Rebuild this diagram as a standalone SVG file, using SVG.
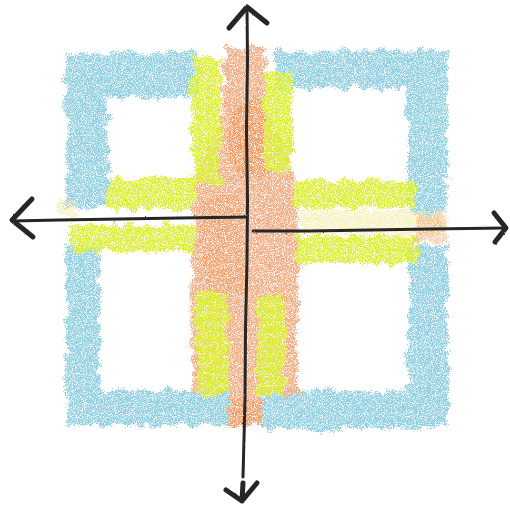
<svg xmlns="http://www.w3.org/2000/svg" width="510" height="507" viewBox="0 0 510 507">
<defs>
<filter id="crayon" x="-10%" y="-10%" width="120%" height="120%">
<feTurbulence type="fractalNoise" baseFrequency="0.08" numOctaves="2" seed="4" result="wave"/>
<feDisplacementMap in="SourceGraphic" in2="wave" scale="14" xChannelSelector="R" yChannelSelector="G" result="wavy"/>
<feTurbulence type="fractalNoise" baseFrequency="0.8" numOctaves="2" seed="3" result="noise"/>
<feDisplacementMap in="wavy" in2="noise" scale="8" xChannelSelector="R" yChannelSelector="G" result="rough"/>
<feTurbulence type="fractalNoise" baseFrequency="1.1" numOctaves="2" seed="11" result="grain"/>
<feColorMatrix in="grain" type="matrix" values="0 0 0 0 0  0 0 0 0 0  0 0 0 0 0  4 0 0 0 -1.15" result="grainA"/>
<feComposite in="rough" in2="grainA" operator="in"/>
</filter>
<filter id="wobble" x="-5%" y="-5%" width="110%" height="110%">
<feTurbulence type="fractalNoise" baseFrequency="0.9" numOctaves="1" seed="5" result="n"/>
<feDisplacementMap in="SourceGraphic" in2="n" scale="2" xChannelSelector="R" yChannelSelector="G"/>
</filter>
</defs>
<style>
.blue{fill:#92d0e2}
.yel{fill:#dbef35}
.org{fill:#f2ae86}
.orgd{fill:#ee8a44}
.pale{fill:#f3e79a}
.axis{fill:none;stroke:#262626;stroke-width:3;stroke-linecap:round;stroke-linejoin:round}
.head{fill:none;stroke:#262626;stroke-width:5;stroke-linecap:round;stroke-linejoin:round}
</style>
<rect width="510" height="507" fill="#ffffff"/>
<g id="blue-frame" filter="url(#crayon)">
<path class="blue" d="M65,53 L198,52 L198,98 L108,98 L108,208 L66,208 Z"/>
<path class="blue" d="M275,51 L448,50 L448,213 L407,213 L407,88 L275,88 Z"/>
<path class="blue" d="M66,246 L100,246 L100,390 L232,390 L232,425 L66,425 Z"/>
<path class="blue" d="M408,246 L448,246 L448,428 L262,428 L262,390 L408,390 Z"/>
</g>
<g id="orange-band" filter="url(#crayon)">
<path class="org" d="M225,48 L263,48 L268,120 L290,150 L298,200 L298,395 L262,396 L262,426 L230,426 L230,396 L192,396 L193,180 L205,150 L222,120 Z"/>
<path class="orgd" opacity="0.5" d="M235,105 L262,100 L272,140 L268,175 L240,180 L228,150 Z"/>
<path class="orgd" opacity="0.25" d="M200,200 L240,195 L245,290 L205,300 Z"/>
<path class="orgd" opacity="0.4" d="M232,400 L262,400 L262,426 L232,426 Z"/>
</g>
<g id="yellow-bars" filter="url(#crayon)">
<path class="yel" d="M192,58 L221,58 L221,185 L192,185 Z"/>
<path class="yel" d="M108,178 L193,178 L193,210 L108,210 Z"/>
<path class="yel" d="M72,225 L195,225 L195,252 L72,252 Z"/>
<path class="yel" d="M264,72 L292,72 L292,172 L264,172 Z"/>
<path class="yel" d="M295,180 L415,180 L415,208 L295,208 Z"/>
<path class="yel" d="M295,236 L418,236 L418,263 L295,263 Z"/>
<path class="yel" d="M197,293 L228,293 L228,396 L197,396 Z"/>
<path class="yel" d="M257,296 L285,296 L285,396 L257,396 Z"/>
<path class="pale" opacity="0.6" d="M300,210 L440,211 L440,235 L300,235 Z"/>
<path class="orgd" opacity="0.4" d="M415,213 L446,213 L446,243 L415,243 Z"/>
<path class="pale" opacity="0.6" d="M60,200 L75,200 L75,215 L60,215 Z"/>
</g>
<g id="axes" filter="url(#wobble)">
<path class="axis" d="M247,8 L247.5,60 L246.5,130 L247.5,200 L247,260 L245.5,330 L245,400 L243,477"/>
<path class="axis" d="M12,221 L60,220 L120,219 L180,218 L247,217"/>
<path class="axis" d="M253,231 L310,231 L370,230 L430,229 L505,228"/>
<path class="head" d="M229,28 L247,7 L267,23"/>
<path class="head" d="M32,199 L12,220 L33,237"/>
<path class="head" d="M494,213 L506,228 L495,242"/>
<path class="head" d="M226,490 L242,501 L257,483 M242,501 L243,483"/>
</g>
</svg>
